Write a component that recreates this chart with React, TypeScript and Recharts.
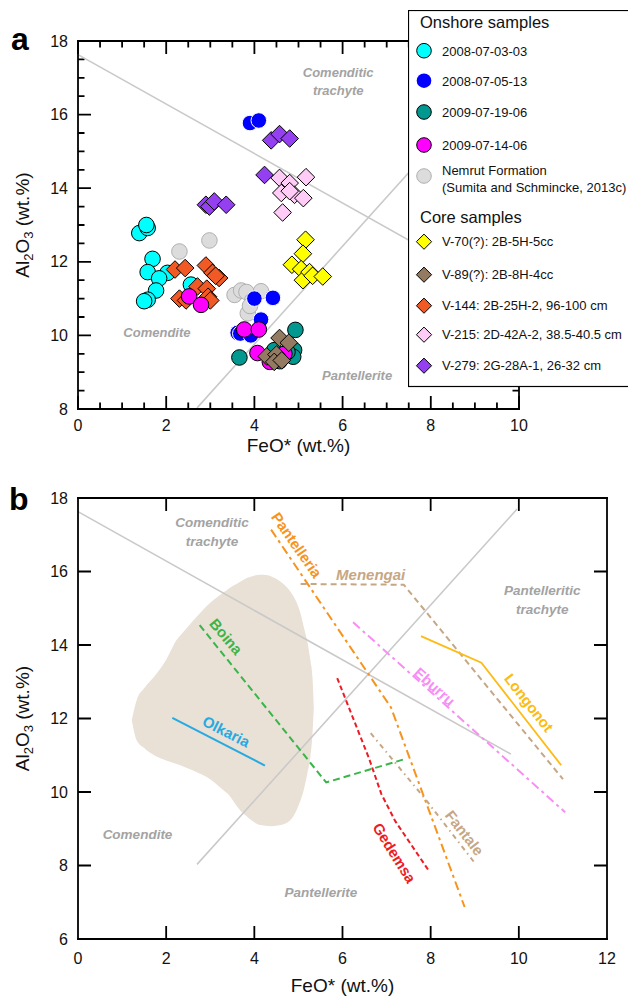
import React from 'react';
import { ComposedChart, Scatter, Line, Area, XAxis, YAxis, Label } from 'recharts';

// ---------------- Panel a : data ----------------
const xTicksA = [0, 2, 4, 6, 8, 10];
const yTicksA = [8, 10, 12, 14, 16, 18];
const xMinorA = [0.5, 1, 1.5, 2.5, 3, 3.5, 4.5, 5, 5.5, 6.5, 7, 7.5, 8.5, 9, 9.5];
const yMinorA = [8.5, 9, 9.5, 10.5, 11, 11.5, 12.5, 13, 13.5, 14.5, 15, 15.5, 16.5, 17, 17.5];

const s2008_07_03_03 = [[1.39, 12.78], [1.58, 12.92], [1.55, 13.0], [1.69, 12.08], [1.58, 11.72], [2.03, 11.7], [1.84, 11.55], [1.77, 11.22], [1.58, 10.97], [1.5, 10.93], [2.56, 11.38]];
const s2008_07_05_13 = [[3.9, 15.77], [4.1, 15.84], [4.0, 11.0], [4.42, 11.02], [4.15, 10.43], [3.62, 10.07], [3.68, 10.05], [3.92, 10.0]];
const s2009_07_19_06 = [[3.66, 9.4], [4.93, 10.15], [4.9, 9.6], [4.88, 9.42], [4.75, 9.55], [4.57, 9.3], [4.45, 9.6]];
const s2009_07_14_06 = [[2.52, 11.06], [2.79, 10.83], [3.77, 10.16], [4.1, 10.16], [4.07, 9.52], [4.35, 9.28], [4.5, 9.35], [4.68, 9.5]];
const sNemrut = [[2.3, 12.28], [2.98, 12.58], [3.55, 11.1], [3.7, 11.22], [3.82, 11.18], [4.15, 11.2], [3.95, 10.95], [3.85, 10.6], [3.9, 10.8]];
const sV70 = [[5.16, 12.6], [5.1, 12.22], [4.85, 11.92], [5.06, 11.8], [5.1, 11.5], [5.25, 11.72], [5.32, 11.62], [5.55, 11.6]];
const sV89 = [[4.57, 9.93], [4.78, 9.8], [4.28, 9.43], [4.5, 9.48], [4.45, 9.28], [4.62, 9.32]];
const sV144 = [[2.2, 11.79], [2.43, 11.83], [2.9, 11.9], [3.05, 11.7], [3.2, 11.56], [3.12, 11.62], [2.71, 11.33], [2.92, 11.27], [2.3, 11.0], [2.45, 10.95], [2.95, 11.05], [3.0, 10.95]];
const sV215 = [[4.57, 14.28], [4.8, 14.14], [5.17, 14.3], [4.61, 13.87], [4.91, 13.82], [5.11, 13.73], [4.64, 13.34], [4.8, 13.92]];
const sV279 = [[4.38, 15.3], [4.57, 15.47], [4.8, 15.35], [4.23, 14.36], [2.9, 13.55], [2.98, 13.5], [3.09, 13.64], [3.36, 13.55]];

// classification lines (shared)
const lineComTrach = [[0, 17.63], [9.82, 11.03]];
const lineComPant = [[2.7, 8.03], [9.96, 17.7]];

// region labels panel a  [x, y, text]
const regionLabelsA: [number, number, string][] = [
  [5.9, 17.17, 'Comenditic\ntrachyte'],
  [1.79, 10.08, 'Comendite'],
  [6.33, 8.93, 'Pantellerite'],
];

// ---------------- Panel b : data ----------------
const xTicksB = [0, 2, 4, 6, 8, 10, 12];
const yTicksB = [6, 8, 10, 12, 14, 16, 18];

// shaded field: x, lower, upper
const fieldX = [1.22, 1.33, 1.5, 1.79, 2.0, 2.24, 2.4, 2.77, 2.92, 3.3, 3.38, 3.68, 3.83, 4.14, 4.21, 4.4, 4.59, 4.82, 4.89, 5.05, 5.12, 5.2, 5.27, 5.32, 5.35];
const fieldLo = [11.96, 11.41, 11.2, 10.96, 10.86, 10.76, 10.69, 10.5, 10.41, 10.05, 9.97, 9.5, 9.33, 9.1, 9.09, 9.07, 9.1, 9.24, 9.35, 9.78, 10.05, 10.5, 10.95, 11.6, 12.3];
const fieldHi = [11.96, 12.5, 12.82, 13.23, 13.6, 14.14, 14.37, 14.87, 15.06, 15.43, 15.5, 15.72, 15.82, 15.91, 15.91, 15.86, 15.73, 15.45, 15.32, 14.85, 14.5, 14.1, 13.59, 13.1, 12.3];

const olkaria = [[2.14, 12.02], [4.24, 10.72]];
const boina = [[2.76, 14.54], [5.63, 10.26], [7.37, 10.88]];
const pantelleria = [[4.38, 17.14], [7.1, 12.3], [8.77, 6.87]];
const menengai = [[5.05, 15.66], [7.39, 15.64], [11.0, 10.35]];
const eburru = [[6.24, 14.62], [11.05, 9.45]];
const longonot = [[7.78, 14.24], [9.15, 13.52], [10.96, 10.73]];
const gedemsa = [[5.88, 13.1], [6.6, 10.92], [6.88, 9.95], [7.2, 9.2], [7.95, 7.87]];
const fantale = [[6.64, 11.6], [7.85, 9.85], [8.98, 8.1]];

const regionLabelsB: [number, number, string][] = [
  [3.04, 17.36, 'Comenditic\ntrachyte'],
  [10.53, 15.51, 'Pantelleritic\ntrachyte'],
  [1.35, 8.85, 'Comendite'],
  [5.51, 7.27, 'Pantellerite'],
];
// [x, y, text, angle]
const lineLabelsB: [number, number, string, number][] = [
  [4.97, 16.73, 'Pantelleria', 55],
  [6.64, 15.94, 'Menengai', 0],
  [3.37, 14.24, 'Boina', 50],
  [3.37, 11.66, 'Olkaria', 27],
  [8.1, 12.88, 'Eburru', 42],
  [10.24, 12.44, 'Longonot', 52],
  [7.19, 8.35, 'Gedemsa', 58],
  [8.78, 8.9, 'Fantale', 52],
];

// ---------------- styles ----------------
const FONT = "'Liberation Sans', Arial, Helvetica, sans-serif";
const TICKFONT = "'Liberation Sans Narrow', 'Arial Narrow', 'Liberation Sans', Arial, sans-serif";
const GRAY_LINE = '#c9c9c9';
const REGION_GRAY = '#a3a3a3';
const TAN = '#c6a785';
const PX_X = 44.1; // pixels per x unit (both panels)
const PX_Y = 36.75; // pixels per y unit (both panels)
const MAJOR_PX = 13;
const MINOR_PX = 6.5;

const toPts = (a: number[][]) => a.map(([x, y]) => ({ x, y }));

// tick-mark segments as broken lines (gaps via null)
const vTicks = (vals: number[], at: number, lenPx: number) => {
  const out: any[] = [];
  vals.forEach((v) => { out.push({ x: v, y: at }); out.push({ x: v, y: at + lenPx / PX_Y }); out.push({ x: v, y: null }); });
  return out;
};
const hTicks = (vals: number[], at: number, lenPx: number) => {
  const out: any[] = [];
  vals.forEach((v) => { out.push({ x: at, y: v }); out.push({ x: at + lenPx / PX_X, y: v }); out.push({ x: at + lenPx / PX_X, y: null }); });
  return out;
};

type SeriesDef = { name: string; data: number[][]; kind: 'circle' | 'diamond'; fill: string; stroke: string };
const onshore: SeriesDef[] = [
  { name: '2008-07-03-03', data: s2008_07_03_03, kind: 'circle', fill: '#00ffff', stroke: '#000' },
  { name: '2008-07-05-13', data: s2008_07_05_13, kind: 'circle', fill: '#0000ff', stroke: '#ffffff' },
  { name: '2009-07-19-06', data: s2009_07_19_06, kind: 'circle', fill: '#00988f', stroke: '#000' },
  { name: '2009-07-14-06', data: s2009_07_14_06, kind: 'circle', fill: '#ff00ff', stroke: '#000' },
  { name: 'Nemrut Formation\n(Sumita and Schmincke, 2013c)', data: sNemrut, kind: 'circle', fill: '#dcdcdc', stroke: '#b0b0b0' },
];
const core: SeriesDef[] = [
  { name: 'V-70(?): 2B-5H-5cc', data: sV70, kind: 'diamond', fill: '#ffff00', stroke: '#000' },
  { name: 'V-89(?): 2B-8H-4cc', data: sV89, kind: 'diamond', fill: '#957a62', stroke: '#000' },
  { name: 'V-144: 2B-25H-2, 96-100 cm', data: sV144, kind: 'diamond', fill: '#f15a24', stroke: '#000' },
  { name: 'V-215: 2D-42A-2, 38.5-40.5 cm', data: sV215, kind: 'diamond', fill: '#ffccf7', stroke: '#000' },
  { name: 'V-279: 2G-28A-1, 26-32 cm', data: sV279, kind: 'diamond', fill: '#9440f0', stroke: '#000' },
];
const drawOrder = [onshore[4], onshore[0], onshore[1], onshore[2], core[0], core[2], onshore[3], core[1], core[3], core[4]];

const CircleShape = (fill: string, stroke: string) => (p: any) =>
  <circle cx={p.cx} cy={p.cy} r={7.8} fill={fill} stroke={stroke} strokeWidth={1} />;
const DiamondShape = (fill: string, stroke: string) => (p: any) => {
  const s = 8.8;
  return <path d={`M${p.cx},${p.cy - s}L${p.cx + s},${p.cy}L${p.cx},${p.cy + s}L${p.cx - s},${p.cy}Z`} fill={fill} stroke={stroke} strokeWidth={1} />;
};

const makeTextShape = (color: string, size: number, italic: boolean) => (p: any) => {
  const lines = String(p.payload.text).split('\n');
  const a = p.payload.angle || 0;
  return (
    <text x={p.cx} y={p.cy} transform={a ? `rotate(${a} ${p.cx} ${p.cy})` : undefined} textAnchor="middle"
      dominantBaseline="central" fill={p.payload.color || color} fontSize={size} fontWeight="bold"
      fontStyle={italic ? 'italic' : 'normal'} fontFamily={FONT}>
      {lines.map((l, i) => <tspan key={i} x={p.cx} dy={i === 0 ? 0 : size * 1.42}>{l}</tspan>)}
    </text>
  );
};

const AxisLabelTick = (props: any) => {
  const { x, y, payload, side, offset } = props;
  const v = payload.value;
  const ts = { fill: '#111', fontSize: 16, fontFamily: TICKFONT };
  if (side === 'left') return <text x={x - offset} y={y} textAnchor="end" dominantBaseline="central" {...ts}>{v}</text>;
  return <text x={x} y={y + offset} textAnchor="middle" dominantBaseline="central" {...ts}>{v}</text>;
};

const AXLINE = { stroke: '#000', strokeWidth: 1.8, strokeLinecap: 'square' as const };

const XTitle = (dy: number) => (p: any) => {
  const vb = p.viewBox || {};
  return <text x={vb.x + vb.width / 2} y={vb.y + dy} textAnchor="middle" fontSize={19} fontFamily={FONT} fill="#111">FeO* (wt.%)</text>;
};
const YTitle = (bx: number) => (p: any) => {
  const vb = p.viewBox || {};
  const cy = vb.y + vb.height / 2;
  return (
    <text x={bx} y={cy} transform={`rotate(-90 ${bx} ${cy})`} textAnchor="middle" fontSize={19} fontFamily={FONT} fill="#111">
      Al<tspan fontSize={13} dy={4}>2</tspan><tspan dy={-4}>O</tspan><tspan fontSize={13} dy={4}>3</tspan><tspan dy={-4}> (wt.%)</tspan>
    </text>
  );
};

const ticksA = [
  vTicks(xTicksA, 8, MAJOR_PX), vTicks(xTicksA, 18, -MAJOR_PX), vTicks(xMinorA, 8, MINOR_PX), vTicks(xMinorA, 18, -MINOR_PX),
  hTicks(yTicksA, 0, MAJOR_PX), hTicks(yTicksA, 10, -MAJOR_PX), hTicks(yMinorA, 0, MINOR_PX), hTicks(yMinorA, 10, -MINOR_PX),
];
const ticksB = [
  vTicks(xTicksB.slice(1, -1), 6, MAJOR_PX), vTicks(xTicksB.slice(1, -1), 18, -MAJOR_PX),
  hTicks(yTicksB.slice(1, -1), 0, MAJOR_PX), hTicks(yTicksB.slice(1, -1), 12, -MAJOR_PX),
];

const TickLines = (sets: any[][]) => sets.map((d, i) => (
  <Line key={'tk' + i} data={d} dataKey="y" stroke="#000" strokeWidth={1.8} dot={false} activeDot={false}
    connectNulls={false} isAnimationActive={false} />
));

const PanelA = () => (
  <ComposedChart width={628} height={470} margin={{ top: 40, right: 108, bottom: 0, left: 0 }}>
    <XAxis xAxisId={0} dataKey="x" type="number" domain={[0, 10]} ticks={xTicksA} interval={0} height={61}
      tickSize={0} tickMargin={0} tickLine={false} axisLine={AXLINE}
      tick={<AxisLabelTick side="bottom" offset={16} />}>
      <Label content={XTitle(43)} />
    </XAxis>
    <XAxis xAxisId="top" orientation="top" dataKey="x" type="number" domain={[0, 10]} ticks={xTicksA} height={1}
      tickLine={false} axisLine={AXLINE} tick={false} />
    <YAxis yAxisId={0} type="number" domain={[8, 18]} ticks={yTicksA} interval={0} width={78}
      tickSize={0} tickMargin={0} tickLine={false} axisLine={AXLINE}
      tick={<AxisLabelTick side="left" offset={10} />}>
      <Label content={YTitle(28.5)} />
    </YAxis>
    <YAxis yAxisId="right" orientation="right" type="number" domain={[8, 18]} ticks={yTicksA} width={1}
      tickLine={false} axisLine={AXLINE} tick={false} />
    {TickLines(ticksA)}
    <Line data={toPts(lineComTrach)} dataKey="y" stroke={GRAY_LINE} strokeWidth={1.6} dot={false} activeDot={false} isAnimationActive={false} />
    <Line data={toPts(lineComPant)} dataKey="y" stroke={GRAY_LINE} strokeWidth={1.6} dot={false} activeDot={false} isAnimationActive={false} />
    <Scatter data={regionLabelsA.map(([x, y, text]) => ({ x, y, text }))} dataKey="y"
      shape={makeTextShape(REGION_GRAY, 13, true)} isAnimationActive={false} />
    {drawOrder.map((s) => (
      <Scatter key={s.name} name={s.name} data={toPts(s.data)} dataKey="y" isAnimationActive={false}
        shape={s.kind === 'circle' ? CircleShape(s.fill, s.stroke) : DiamondShape(s.fill, s.stroke)} />
    ))}
  </ComposedChart>
);

const fieldData = fieldX.map((x, i) => ({ x, lo: fieldLo[i], hi: fieldHi[i] }));

type LineDef = { data: number[][]; color: string; dash?: string; width: number };
const linesB: LineDef[] = [
  { data: lineComTrach, color: GRAY_LINE, width: 1.6 },
  { data: lineComPant, color: GRAY_LINE, width: 1.6 },
  { data: olkaria, color: '#27a9e1', width: 2 },
  { data: boina, color: '#39b54a', dash: '7 4', width: 2 },
  { data: menengai, color: TAN, dash: '6 4', width: 2 },
  { data: pantelleria, color: '#f7941d', dash: '9 4 3 4', width: 2 },
  { data: eburru, color: '#f98cf5', dash: '9 4 3 4', width: 2 },
  { data: longonot, color: '#fdbb13', width: 1.8 },
  { data: fantale, color: TAN, dash: '5 4 1.5 4', width: 2 },
  { data: gedemsa, color: '#ed1c24', dash: '5 3', width: 2 },
];
const lineLabelColors: Record<string, string> = {
  Pantelleria: '#f7941d', Menengai: TAN, Boina: '#39b54a', Olkaria: '#27a9e1', Eburru: '#f98cf5',
  Longonot: '#fdbb13', Gedemsa: '#ed1c24', Fantale: TAN,
};

const PanelB = () => (
  <ComposedChart width={628} height={527} data={fieldData} margin={{ top: 27, right: 20, bottom: 0, left: 0 }}>
    <XAxis xAxisId={0} dataKey="x" type="number" domain={[0, 12]} ticks={xTicksB} interval={0} height={58}
      tickSize={0} tickMargin={0} tickLine={false} axisLine={AXLINE}
      tick={<AxisLabelTick side="bottom" offset={19} />}>
      <Label content={XTitle(53)} />
    </XAxis>
    <XAxis xAxisId="top" orientation="top" dataKey="x" type="number" domain={[0, 12]} ticks={xTicksB} height={1}
      tickLine={false} axisLine={AXLINE} tick={false} />
    <YAxis yAxisId={0} type="number" domain={[6, 18]} ticks={yTicksB} interval={0} width={78}
      tickSize={0} tickMargin={0} tickLine={false} axisLine={AXLINE}
      tick={<AxisLabelTick side="left" offset={10} />}>
      <Label content={YTitle(28.5)} />
    </YAxis>
    <YAxis yAxisId="right" orientation="right" type="number" domain={[6, 18]} ticks={yTicksB} width={1}
      tickLine={false} axisLine={AXLINE} tick={false} />
    <Area dataKey={(d: any) => [d.lo, d.hi]} type="monotone" fill="#e9e0d6" fillOpacity={1} stroke="none"
      isAnimationActive={false} dot={false} activeDot={false} />
    {TickLines(ticksB)}
    {linesB.map((l, i) => (
      <Line key={i} data={toPts(l.data)} dataKey="y" stroke={l.color} strokeWidth={l.width} strokeDasharray={l.dash}
        dot={false} activeDot={false} isAnimationActive={false} />
    ))}
    <Scatter data={regionLabelsB.map(([x, y, text]) => ({ x, y, text }))} dataKey="y"
      shape={makeTextShape(REGION_GRAY, 13.5, true)} isAnimationActive={false} />
    <Scatter data={lineLabelsB.filter((r) => r[2] !== 'Menengai').map(([x, y, text, angle]) => ({ x, y, text, angle, color: lineLabelColors[text] }))} dataKey="y"
      shape={makeTextShape('#000', 15, false)} isAnimationActive={false} />
    <Scatter data={lineLabelsB.filter((r) => r[2] === 'Menengai').map(([x, y, text, angle]) => ({ x, y, text, angle, color: lineLabelColors[text] }))} dataKey="y"
      shape={makeTextShape('#000', 15, true)} isAnimationActive={false} />
  </ComposedChart>
);

const LegendBox = () => {
  const items: any[] = [];
  const cyOn = [40.7, 70.7, 102, 135, 166];
  const cyCore = [231.7, 264.7, 295.7, 324.7, 355.7];
  onshore.forEach((s, i) => {
    const cy = cyOn[i];
    const lines = s.name.split('\n');
    items.push(<circle key={'c' + i} cx={16} cy={cy} r={7.3} fill={s.fill} stroke={s.stroke === '#ffffff' ? 'none' : s.stroke} strokeWidth={1} />);
    items.push(
      <text key={'t' + i} x={34} y={lines.length > 1 ? cy - 6 : cy} dominantBaseline="central" fontSize={13} fontFamily={FONT} fill="#111">
        {lines.map((l, k) => <tspan key={k} x={34} dy={k === 0 ? 0 : 17}>{l}</tspan>)}
      </text>
    );
  });
  core.forEach((s, i) => {
    const cy = cyCore[i];
    const d = 7.6;
    items.push(<path key={'d' + i} d={`M16,${cy - d}L${16 + d},${cy}L16,${cy + d}L${16 - d},${cy}Z`} fill={s.fill} stroke={s.stroke} strokeWidth={1} />);
    items.push(<text key={'u' + i} x={34} y={cy} dominantBaseline="central" fontSize={13} fontFamily={FONT} fill="#111">{s.name}</text>);
  });
  return (
    <svg width={220} height={378} style={{ position: 'absolute', left: 408, top: 10 }}>
      <rect x={0.5} y={0.5} width={240} height={376} fill="#fff" stroke="#000" strokeWidth={1.2} />
      <text x={12} y={12} dominantBaseline="central" fontSize={16.5} fontFamily={FONT} fill="#111">Onshore samples</text>
      <text x={12} y={206.7} dominantBaseline="central" fontSize={16.5} fontFamily={FONT} fill="#111">Core samples</text>
      {items}
    </svg>
  );
};

export default function App() {
  return (
    <div style={{ position: 'absolute', left: 0, top: 0, width: 628, height: 997, background: '#fff', overflow: 'hidden', fontFamily: FONT }}>
      <div style={{ position: 'absolute', left: 0, top: 0 }}><PanelA /></div>
      <div style={{ position: 'absolute', left: 0, top: 470 }}><PanelB /></div>
      <LegendBox />
      <svg width={60} height={60} style={{ position: 'absolute', left: 0, top: 0 }}>
        <text x={11} y={50} fontSize={32} fontWeight="bold" fontFamily={FONT} fill="#000">a</text>
      </svg>
      <svg width={60} height={60} style={{ position: 'absolute', left: 0, top: 460 }}>
        <text x={9} y={50} fontSize={32} fontWeight="bold" fontFamily={FONT} fill="#000">b</text>
      </svg>
    </div>
  );
}
